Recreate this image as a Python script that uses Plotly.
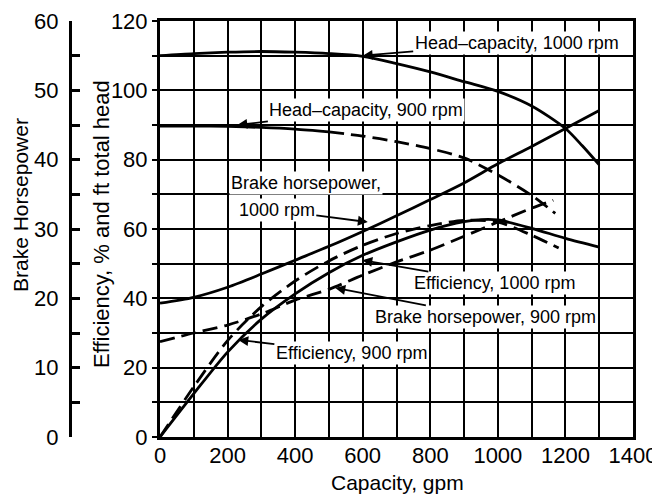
import plotly.graph_objects as go

# ---- data ----
capacity_h1000 = [0, 100, 200, 300, 400, 500, 600, 700, 800, 900, 1000, 1100, 1200, 1250, 1300]
head_1000 = [110, 110.6, 111, 111.2, 111, 110.6, 109.8, 107.7, 105.3, 102.5, 99.7, 95.5, 89, 84, 78.5]

capacity_h900 = [0, 100, 200, 300, 400, 500, 600, 700, 800, 900, 1000, 1100, 1170]
head_900 = [89.7, 89.7, 89.6, 89.3, 88.8, 88, 86.8, 85.2, 83.2, 80.5, 75.6, 69.7, 64.5]
head_900_solid_until = 500

capacity_bhp1000 = [0, 100, 200, 300, 400, 500, 600, 700, 800, 900, 1000, 1100, 1200, 1300]
bhp_1000 = [19.3, 20.15, 21.6, 23.5, 25.5, 27.5, 29.65, 31.9, 34.25, 36.65, 39.4, 41.9, 44.5, 47.1]

capacity_bhp900 = [0, 100, 200, 300, 400, 500, 600, 700, 800, 900, 1000, 1100, 1164]
bhp_900 = [13.75, 15, 16.15, 17.75, 19.75, 21.3, 23.35, 25.25, 26.95, 28.95, 31, 33, 34.15]

capacity_eff1000 = [0, 100, 200, 300, 400, 500, 600, 700, 800, 900, 950, 1000, 1100, 1200, 1300]
eff_1000 = [0, 12.5, 24.5, 34, 41.3, 47.4, 52.4, 56.3, 59.7, 62.1, 62.7, 62.6, 60.2, 57.3, 54.8]

capacity_eff900 = [0, 100, 200, 300, 400, 500, 600, 700, 800, 900, 1000, 1100, 1180]
eff_900 = [0, 14.5, 27.8, 37.6, 45, 50.8, 55.3, 58.7, 61, 62.5, 62, 58.2, 54.5]

x_ticks = list(range(0, 1401, 100))
x_labels = [str(v) if v % 200 == 0 else "" for v in x_ticks]
y_ticks = list(range(0, 121, 10))
y_labels = [str(v) if v % 20 == 0 else "" for v in y_ticks]
y2_ticks = list(range(0, 61, 5))
y2_labels = [str(v) if v % 10 == 0 else "" for v in y2_ticks]

FONT = "Liberation Sans"
LW = 2.8
DASH = "15px,7px"

fig = go.Figure()

def add(x, y, dash=None, axis="y"):
    fig.add_trace(go.Scatter(
        x=x, y=y, mode="lines", yaxis=axis,
        line=dict(color="black", width=LW, dash=dash, shape="spline", smoothing=0.8),
        showlegend=False, hoverinfo="skip"))

add(capacity_h1000, head_1000)
k = capacity_h900.index(head_900_solid_until)
add(capacity_h900[:k + 1], head_900[:k + 1])
add(capacity_h900[k:], head_900[k:], dash=DASH)
add(capacity_bhp1000, bhp_1000, axis="y2")
add(capacity_bhp900, bhp_900, dash=DASH, axis="y2")
add(capacity_eff1000, eff_1000)
add(capacity_eff900, eff_900, dash=DASH)

# page body has an 8px margin; figure is sized so the page is 660x494
OFF = 8
W, H = 660 - OFF, 494 - OFF
ML, MR, MT, MB = 2, 27, 13, 57
PW = W - ML - MR
PH = H - MT - MB

def px2paper_x(px):
    return (px - OFF - ML) / PW

def py2paper_y(py):
    return (H - MB - (py - OFF)) / PH

TICKFONT = dict(size=22, family=FONT)

fig.update_layout(
    width=W, height=H,
    margin=dict(l=ML, r=MR, t=MT, b=MB, autoexpand=False),
    paper_bgcolor="white", plot_bgcolor="white",
    font=dict(family=FONT, color="black", size=18),
    xaxis=dict(
        domain=[px2paper_x(160), 1], range=[0, 1400],
        tickvals=x_ticks, ticktext=x_labels, ticks="",
        showgrid=True, gridcolor="black", gridwidth=1.6,
        showline=True, linecolor="black", linewidth=3, mirror=True,
        zeroline=False, tickfont=TICKFONT, automargin=False,
        ticklabelstandoff=-3,
    ),
    yaxis=dict(
        range=[0, 120], tickvals=y_ticks, ticktext=y_labels,
        ticks="outside", ticklen=5, tickwidth=2, tickcolor="black",
        showgrid=True, gridcolor="black", gridwidth=1.6,
        showline=True, linecolor="black", linewidth=3, mirror=True,
        zeroline=False, tickfont=TICKFONT, automargin=False,
    ),
    yaxis2=dict(
        range=[0, 60], overlaying="y", anchor="free", side="left",
        position=px2paper_x(70),
        tickvals=y2_ticks, ticktext=y2_labels,
        ticks="inside", ticklen=8, tickwidth=2.5, tickcolor="black",
        showgrid=False, showline=True, linecolor="black", linewidth=3,
        zeroline=False, tickfont=TICKFONT, automargin=False,
        ticklabelstandoff=6,
    ),
)

# axis titles
fig.add_annotation(text="Brake Horsepower", xref="paper", yref="paper",
                   x=px2paper_x(20), y=py2paper_y(205), textangle=-90,
                   xanchor="center", yanchor="middle",
                   showarrow=False, font=dict(size=21, family=FONT))
fig.add_annotation(text="Efficiency, % and ft total head", xref="paper", yref="paper",
                   x=px2paper_x(101), y=py2paper_y(224), textangle=-90,
                   xanchor="center", yanchor="middle",
                   showarrow=False, font=dict(size=22, family=FONT))
fig.add_annotation(text="Capacity, gpm", xref="paper", yref="paper",
                   x=px2paper_x(397), y=py2paper_y(482),
                   xanchor="center", yanchor="middle",
                   showarrow=False, font=dict(size=21, family=FONT))

# curve labels
def label(text, x, y, ax, ay, arrow=True):
    fig.add_annotation(text=text, x=x, y=y, xref="x", yref="y",
                       ax=ax, ay=ay, showarrow=arrow,
                       arrowhead=2, arrowsize=1.1, arrowwidth=1.8, arrowcolor="black",
                       bgcolor="white", borderpad=1,
                       font=dict(size=18, family=FONT))

label("Head–capacity, 1000 rpm", 600, 110, 154, -13)
label("Head–capacity, 900 rpm", 229, 90, 129, -15)
fig.add_annotation(text="Brake horsepower,", xref="paper", yref="paper",
                   x=px2paper_x(306), y=py2paper_y(183), showarrow=False,
                   xanchor="center", yanchor="middle",
                   bgcolor="white", borderpad=1, font=dict(size=18, family=FONT))
label("1000 rpm", 615, 62, -91, -12)
label("Efficiency, 1000 rpm", 599, 51, 132, 23)
label("Brake horsepower, 900 rpm", 519, 43, 150, 29)
label("Efficiency, 900 rpm", 232, 28, 113, 13)

fig.write_html("out.html")
